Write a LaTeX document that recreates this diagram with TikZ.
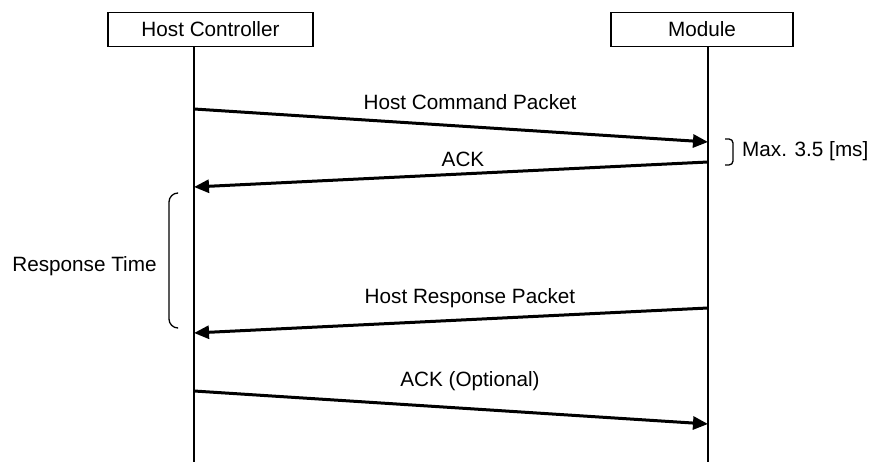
\documentclass[tikz,border=0pt]{standalone}
\usepackage{fontspec}
\setmainfont{Liberation Sans}
\usetikzlibrary{arrows.meta}
\begin{document}
\begin{tikzpicture}[x=1pt,y=-1pt,
  lbl/.style={font=\fontsize{20.7}{24}\selectfont, inner sep=0pt},
  actor/.style={draw, line width=1.4pt, font=\fontsize{20.7}{24}\selectfont, inner sep=0pt},
  life/.style={line width=1.5pt},
  msg/.style={line width=3pt, -{Triangle[length=15pt,width=13pt]}},
  brk/.style={line width=1.3pt}]
\useasboundingbox (0,0) rectangle (871,462);
% participants
\node[actor, minimum width=205pt, minimum height=34pt] (hc) at (210.5,29.5) {Host Controller};
\node[actor, minimum width=182pt, minimum height=34pt] (mod) at (702,29.5) {Module};
% lifelines
\coordinate (hctop) at (194,46.5);
\coordinate (hcbot) at (194,462);
\coordinate (mtop) at (708,46.5);
\coordinate (mbot) at (708,462);
\draw[life] (hctop) -- (hcbot);
\draw[life] (mtop) -- (mbot);
% message end points
\coordinate (a1s) at (194,109);
\coordinate (a1e) at (708,142);
\coordinate (a2s) at (708,162);
\coordinate (a2e) at (194,187);
\coordinate (a3s) at (708,308);
\coordinate (a3e) at (194,333);
\coordinate (a4s) at (194,391);
\coordinate (a4e) at (708,424);
\draw[msg] (a1s) -- (a1e);
\draw[msg] (a2s) -- (a2e);
\draw[msg] (a3s) -- (a3e);
\draw[msg] (a4s) -- (a4e);
% labels
\node[lbl] (l1) at (470,102) {Host Command Packet};
\node[lbl] (l2) at (463,159) {ACK};
\node[lbl] (l3) at (470,298) {Host Response Packet};
\node[lbl] (l4) at (470,381) {ACK (Optional)};
% brackets
\draw[brk, rounded corners=4pt] (725,139) -- (733,139) -- (733,165) -- (725,165);
\node[lbl, anchor=west] (mx) at (742,151) {Max. 3.5 [ms]};
\draw[brk, rounded corners=9pt] (177,193) -- (169,193) -- (169,328) -- (177,328);
\node[lbl] (rt) at (84.5,266) {Response Time};
\end{tikzpicture}
\end{document}
